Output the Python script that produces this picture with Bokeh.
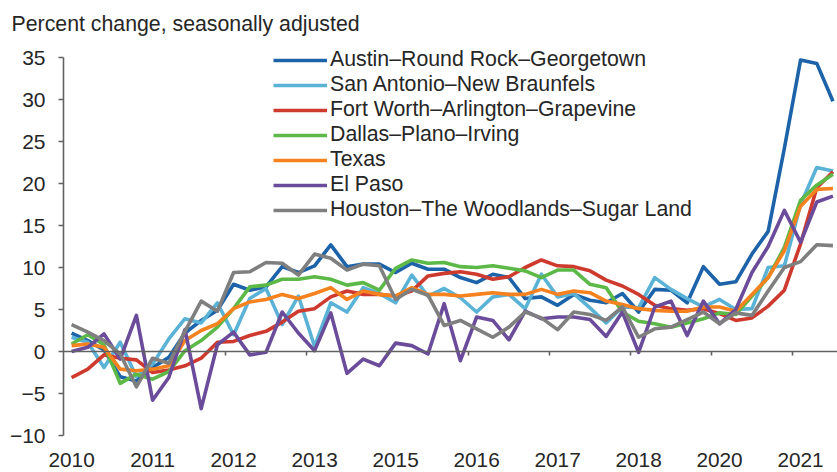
from bokeh.plotting import figure
from bokeh.models import Range1d, FixedTicker, LinearAxis, Legend, LegendItem, CustomJSTickFormatter
from bokeh.embed import file_html
from bokeh.resources import INLINE

# Quarterly index 0 = 2010Q1 ... 47 = 2021Q4
quarters = list(range(48))

label_positions = [0, 5, 10, 15, 20, 25, 30, 35, 40, 45]
label_texts = ["2010", "2011", "2012", "2013", "2015", "2016", "2017", "2018", "2020", "2021"]
boundary_ticks = [4.5, 9.5, 14.5, 19.5, 24.5, 29.5, 34.5, 39.5, 44.5]
y_ticks = [-10, -5, 0, 5, 10, 15, 20, 25, 30, 35]

austin = [2.2, 1.3, 0.2, -3.0, -3.5, -1.9, -0.7, 2.2, 3.7, 4.9, 8.0, 7.3, 7.7, 10.1, 9.4, 10.2,
          12.7, 10.1, 10.4, 10.4, 9.4, 10.5, 9.8, 9.8, 8.8, 8.2, 9.2, 8.8, 6.3, 6.5, 5.5, 6.8,
          6.1, 5.8, 6.9, 4.7, 7.4, 7.3, 5.8, 10.1, 8.0, 8.3, 11.6, 14.3, 24.2, 34.7, 34.3, 29.8]
san_antonio = [1.7, 1.1, -1.9, 1.1, -3.0, -1.5, 1.5, 3.9, 3.4, 5.8, 2.0, 6.3, 7.5, 3.2, 6.6, 0.6,
               5.8, 4.7, 7.6, 6.9, 5.8, 9.1, 6.6, 7.5, 6.4, 4.7, 6.5, 6.8, 5.1, 9.2, 6.5, 6.9,
               5.2, 3.4, 5.3, 5.2, 8.8, 7.4, 6.3, 5.3, 6.2, 5.0, 5.1, 10.0, 10.2, 17.5, 21.9, 21.5]
fort_worth = [-3.1, -2.1, -0.4, -0.8, -1.0, -2.5, -2.2, -1.7, -0.8, 1.1, 1.2, 1.9, 2.4, 3.5, 4.8, 5.1,
              6.5, 7.2, 6.8, 6.8, 6.6, 7.2, 9.0, 9.3, 9.5, 9.2, 8.6, 8.9, 10.0, 10.9, 10.2, 10.1,
              9.6, 8.5, 7.8, 6.8, 5.5, 5.1, 4.9, 5.1, 4.5, 3.7, 4.0, 5.4, 7.3, 12.8, 19.5, 21.4]
dallas = [0.9, 2.0, 0.8, -3.8, -2.7, -3.3, -2.4, 0.1, 1.3, 2.9, 5.1, 7.7, 7.9, 8.6, 8.6, 8.9,
          8.6, 7.9, 8.2, 7.3, 9.9, 10.9, 10.5, 10.6, 10.1, 10.0, 10.2, 9.9, 9.6, 8.8, 9.7, 9.7,
          8.0, 7.6, 4.7, 3.6, 3.3, 2.9, 3.4, 3.9, 4.6, 4.4, 6.6, 8.8, 12.4, 18.0, 19.8, 21.1]
texas = [0.7, 0.9, 0.5, -2.1, -2.3, -2.1, -1.7, 1.3, 2.5, 3.3, 5.1, 5.9, 6.2, 6.8, 6.3, 6.9,
         7.6, 6.2, 7.2, 6.8, 6.6, 7.6, 6.8, 6.8, 6.6, 6.8, 7.0, 6.8, 6.8, 7.4, 6.8, 7.2,
         7.0, 6.0, 5.6, 5.1, 4.9, 4.8, 4.8, 5.3, 5.3, 4.8, 6.8, 8.8, 12.0, 17.3, 19.3, 19.4]
el_paso = [0.0, 0.5, 2.1, -0.9, 4.3, -5.8, -3.1, 2.6, -6.8, 0.8, 2.3, -0.4, -0.1, 4.7, 2.2, 0.1,
           4.6, -2.6, -0.9, -1.7, 1.0, 0.7, -0.3, 5.7, -1.1, 4.1, 3.7, 1.4, 4.8, 3.9, 4.1, 4.1,
           3.8, 1.8, 4.7, -0.1, 5.3, 6.0, 1.9, 6.0, 3.3, 5.0, 9.4, 12.5, 16.8, 13.0, 17.8, 18.5]
houston = [3.2, 2.3, 1.3, -0.3, -4.2, -0.8, -1.4, 2.4, 6.0, 4.8, 9.4, 9.5, 10.6, 10.5, 9.1, 11.6,
           11.1, 9.7, 10.4, 10.2, 6.2, 7.4, 6.7, 3.1, 3.7, 2.7, 1.7, 2.9, 4.7, 4.0, 2.6, 4.7,
           4.4, 3.7, 5.3, 1.7, 2.7, 2.9, 3.8, 4.7, 3.3, 4.6, 4.3, 7.2, 10.0, 10.7, 12.7, 12.6]

series_names = ["Austin–Round Rock–Georgetown", "San Antonio–New Braunfels",
                "Fort Worth–Arlington–Grapevine", "Dallas–Plano–Irving", "Texas",
                "El Paso", "Houston–The Woodlands–Sugar Land"]
series_values = [austin, san_antonio, fort_worth, dallas, texas, el_paso, houston]
series_colors = ["#1c63a9", "#5ab2d6", "#cf3a2e", "#5cb947", "#f5821f", "#6b4c9b", "#7f7f7f"]

FONT = "Liberation Sans"
TEXT_COLOR = "#262626"
AXIS_COLOR = "#626262"

p = figure(width=837, height=472, x_range=Range1d(-0.5, 47.28), y_range=Range1d(-10, 36.43),
           output_backend="svg", toolbar_location=None,
           min_border_left=63, min_border_right=0, min_border_top=45, min_border_bottom=37)
p.outline_line_color = None
p.xgrid.visible = False
p.ygrid.visible = False
p.background_fill_color = "white"

# title
p.title.text = "Percent change, seasonally adjusted"
p.title.align = "left"
p.title.vertical_align = "top"
p.title.offset = -52
p.title.standoff = 15
p.title.text_font = FONT
p.title.text_font_size = "21.3px"
p.title.text_font_style = "normal"
p.title.text_color = TEXT_COLOR

# bottom year labels
xa = p.xaxis[0]
xa.ticker = FixedTicker(ticks=label_positions)
xa.major_label_overrides = {pos: txt for pos, txt in zip(label_positions, label_texts)}
xa.axis_line_color = None
xa.major_tick_line_color = None
xa.minor_tick_line_color = None
xa.major_label_text_font = FONT
xa.major_label_text_font_size = "20.8px"
xa.major_label_text_color = TEXT_COLOR
xa.major_label_standoff = 11

# horizontal axis line at zero with tick marks at category boundaries
zero_axis = LinearAxis(fixed_location=0, ticker=FixedTicker(ticks=boundary_ticks),
                       formatter=CustomJSTickFormatter(code="return ''"),
                       major_label_standoff=0, major_tick_out=4, major_tick_in=0,
                       axis_line_color=AXIS_COLOR, axis_line_width=1.6,
                       major_tick_line_color=AXIS_COLOR, major_tick_line_width=1.6,
                       minor_tick_line_color=None)
p.add_layout(zero_axis, "below")

# y axis
ya = p.yaxis[0]
ya.ticker = FixedTicker(ticks=y_ticks)
ya.bounds = (-10, 35)
ya.axis_line_color = AXIS_COLOR
ya.axis_line_width = 1.6
ya.major_tick_line_color = AXIS_COLOR
ya.major_tick_line_width = 1.6
ya.major_tick_out = 5
ya.major_tick_in = 0
ya.minor_tick_line_color = None
ya.major_label_text_font = FONT
ya.major_label_text_font_size = "21px"
ya.major_label_text_color = TEXT_COLOR
ya.major_label_standoff = 13

items = []
for name, vals, col in zip(series_names, series_values, series_colors):
    r = p.line(quarters, vals, line_color=col, line_width=3.6, line_join="round")
    items.append(LegendItem(label=name, renderers=[r]))

legend = Legend(items=items, location=(210, 213), orientation="vertical",
                glyph_width=54, glyph_height=20, label_height=20, spacing=0,
                padding=0, margin=0, label_standoff=3,
                label_text_font=FONT, label_text_font_size="21.3px", label_text_color=TEXT_COLOR,
                background_fill_alpha=0, border_line_alpha=0)
p.add_layout(legend)

open("out.html", "w").write(file_html(p, INLINE))
